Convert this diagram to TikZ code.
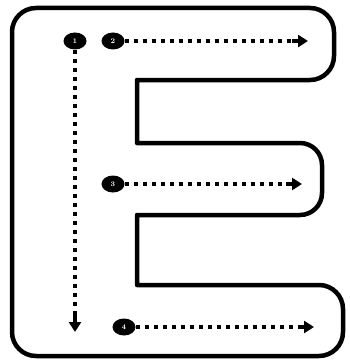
\documentclass[tikz,border=0pt]{standalone}
\usetikzlibrary{shapes.geometric,arrows.meta}
\begin{document}
\begin{tikzpicture}[x=1pt,y=-1pt,
  outline/.style={line width=4.5pt,line join=round},
  marker/.style={ellipse,fill=black,text=white,minimum width=23pt,minimum height=17pt,inner sep=0pt,font=\scriptsize\bfseries},
  dotline/.style={line width=3.2pt,dash pattern=on 4pt off 5pt},
  headline/.style={line width=3.6pt,-{Triangle[length=10pt,width=12pt]}}]
\useasboundingbox (0,0) rectangle (350,361);
\draw[outline] (137,110) -- (137,80) -- (250,80) [rounded corners=24pt] -- (334,80) -- (334,8) -- (12,8) -- (12,356) -- (343,356) -- (343,285) -- (250,285) [sharp corners] -- (137,285) -- (137,215) -- (250,215) [rounded corners=22pt] -- (322,215) -- (322,143) -- (250,143) [sharp corners] -- (137,143) -- cycle;
\node[marker] (n1) at (75,41) {1};
\node[marker] (n2) at (113,41) {2};
\node[marker] (n3) at (113,184) {3};
\node[marker] (n4) at (124,327) {4};
\coordinate (t1) at (292,41); \coordinate (t2) at (308,41);
\coordinate (v1) at (75,314); \coordinate (v2) at (75,332);
\coordinate (m1) at (286,184); \coordinate (m2) at (302,184);
\coordinate (b1) at (298,327); \coordinate (b2) at (314,327);
\draw[dotline] (n2.east) -- (t1);
\draw[headline] (t1) -- (t2);
\draw[dotline] (n1.south) -- (v1);
\draw[headline] (v1) -- (v2);
\draw[dotline] (n3.east) -- (m1);
\draw[headline] (m1) -- (m2);
\draw[dotline] (n4.east) -- (b1);
\draw[headline] (b1) -- (b2);
\end{tikzpicture}
\end{document}
